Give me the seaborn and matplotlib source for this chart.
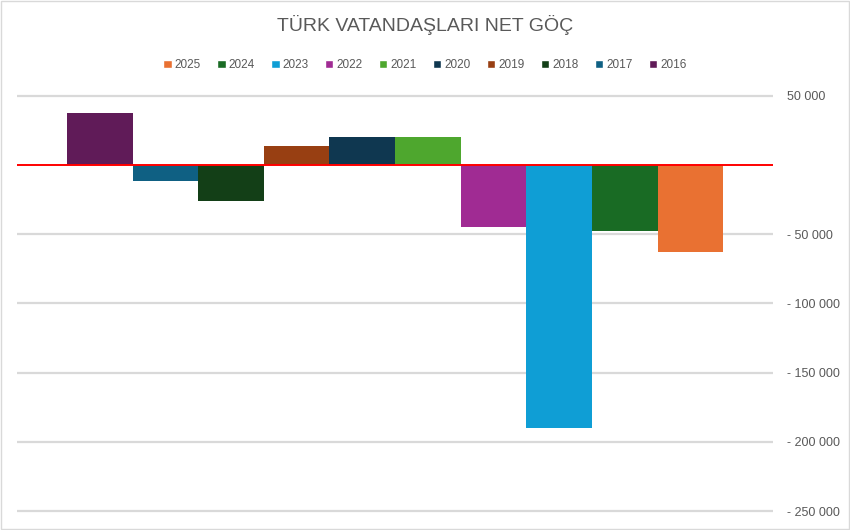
import matplotlib
matplotlib.use("Agg")
import matplotlib.pyplot as plt
from matplotlib.patches import Patch, Rectangle
from matplotlib.ticker import FixedLocator, FuncFormatter
import seaborn as sns

# Net migration of Turkish citizens by year
years = ["2016", "2017", "2018", "2019", "2020", "2021", "2022", "2023", "2024", "2025"]
net_migration = [37600, -11600, -26000, 13700, 20600, 20600, -45000, -190000, -47700, -63100]
bar_colors = ["#601B58", "#0F6083", "#133F17", "#983F12", "#0F3750",
              "#4EA72E", "#A02B93", "#0F9ED5", "#196B24", "#E97132"]
y_ticks = [50000, 0, -50000, -100000, -150000, -200000, -250000]

sns.set_theme(style="white")
plt.rcParams["font.family"] = ["Liberation Sans", "DejaVu Sans"]
text_color = "#595959"

fig = plt.figure(figsize=(8.5, 5.3), dpi=100)
ax = fig.add_axes([17 / 850, 0.0306, (773 - 17) / 850, 0.8242 - 0.0306])

palette = dict(zip(years, bar_colors))
sns.barplot(x=years, y=net_migration, hue=years, palette=palette, width=1.0,
            saturation=1, legend=False, ax=ax, zorder=2, linewidth=0)

ax.set_xlim(-1.26, 10.26)
ax.set_ylim(-252000, 52000)

# gridlines (no gridline at zero, the red line is there)
for t in y_ticks:
    if t != 0:
        ax.axhline(t, color="#d9d9d9", lw=1.6, zorder=0)
ax.axhline(0, color="#FF0000", lw=1.4, zorder=3)

ax.yaxis.tick_right()
ax.yaxis.set_major_locator(FixedLocator(y_ticks))


def fmt(v, pos):
    if v == 0:
        return ""
    s = f"{abs(int(v)):,}".replace(",", " ")
    return ("- " + s) if v < 0 else s


ax.yaxis.set_major_formatter(FuncFormatter(fmt))
ax.tick_params(axis="y", length=0, pad=10, labelsize=9, labelcolor=text_color)
ax.set_xticks([])
ax.set_xlabel("")
ax.set_ylabel("")
for sp in ax.spines.values():
    sp.set_visible(False)

fig.text(0.5, 1 - 25 / 530, "TÜRK VATANDAŞLARI NET GÖÇ", ha="center", va="center",
         fontsize=14, color=text_color)

handles = [Patch(facecolor=palette[y], label=y) for y in reversed(years)]
fig.legend(handles=handles, loc="center", bbox_to_anchor=(0.5, 1 - 65 / 530), ncol=10,
           frameon=False, handlelength=0.7, handleheight=0.7, handletextpad=0.25,
           columnspacing=1.4, fontsize=8.5, labelcolor=text_color)

# chart border
fig.patches.append(Rectangle((0.001, 0.001), 0.998, 0.998, transform=fig.transFigure,
                             fill=False, edgecolor="#d9d9d9", lw=1.0))

fig.savefig("out.png", dpi=100)
